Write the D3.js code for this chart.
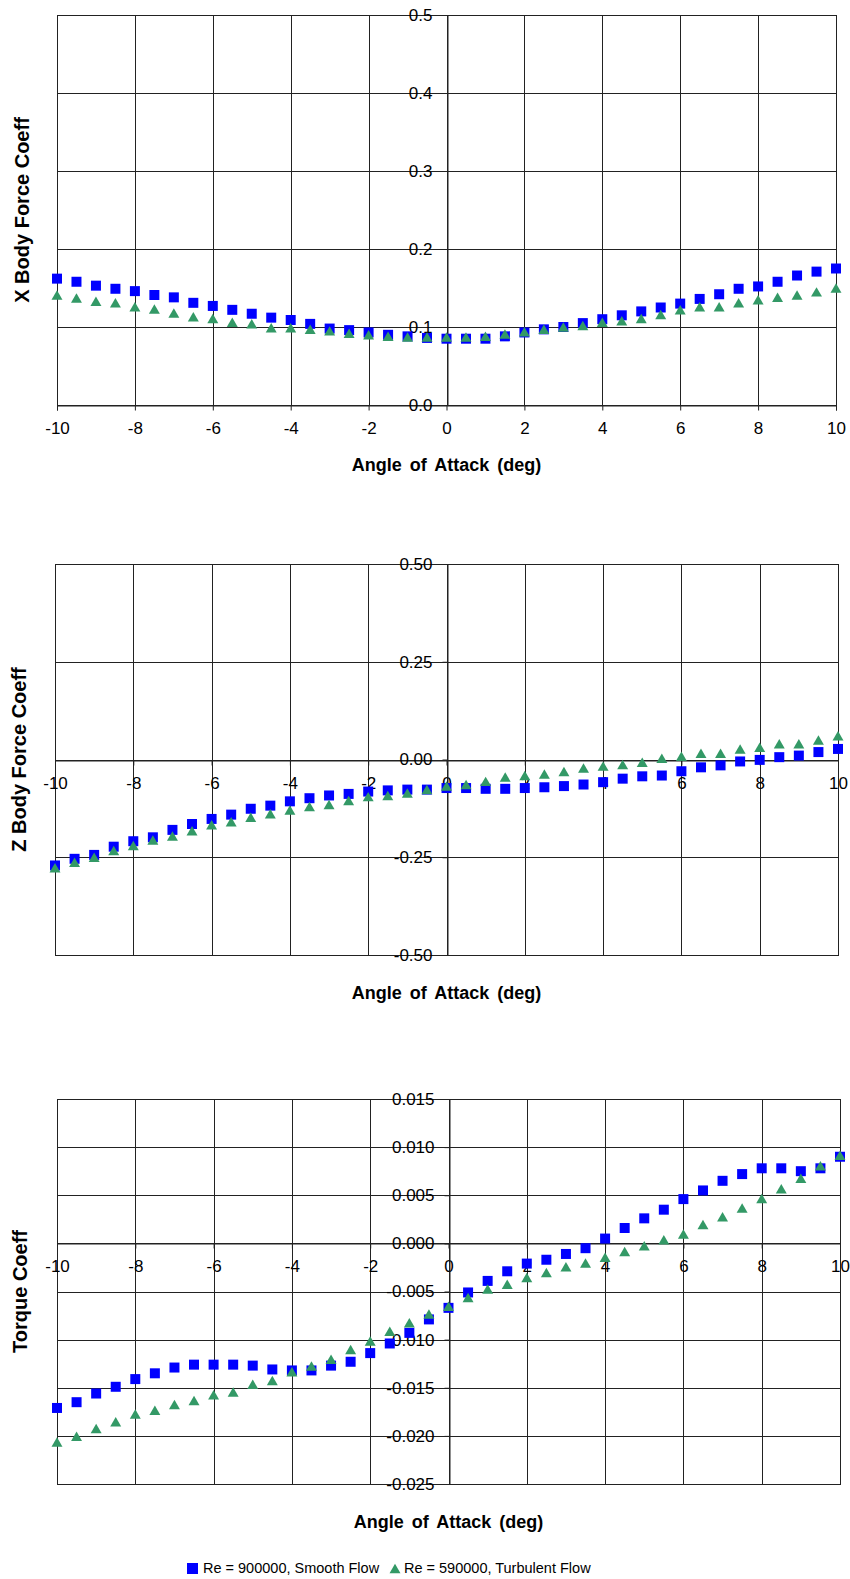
<!DOCTYPE html>
<html>
<head>
<meta charset="utf-8">
<script src="https://cdn.jsdelivr.net/npm/d3@7"></script>
<style>
  body { margin: 0; background: #fff; }
  text { font-family: Arial, 'Liberation Sans', sans-serif; fill: #000; }
</style>
</head>
<body>
<svg id="chart"></svg>
<script>
// angle of attack, deg
const angles = [-10, -9.5, -9, -8.5, -8, -7.5, -7, -6.5, -6, -5.5, -5, -4.5, -4, -3.5, -3, -2.5, -2, -1.5, -1, -0.5,
    0, 0.5, 1, 1.5, 2, 2.5, 3, 3.5, 4, 4.5, 5, 5.5, 6, 6.5, 7, 7.5, 8, 8.5, 9, 9.5, 10]
const xTicks = [-10, -8, -6, -4, -2, 0, 2, 4, 6, 8, 10]
const seriesNames = ['Re = 900000, Smooth Flow', 'Re = 590000, Turbulent Flow']

// X body force coeff
const xForceSmooth = [0.162, 0.158, 0.153, 0.149, 0.146, 0.141, 0.138, 0.131, 0.127, 0.122, 0.117, 0.112, 0.109, 0.104, 0.098, 0.096,
    0.093, 0.090, 0.088, 0.086, 0.085, 0.085, 0.085, 0.088, 0.093, 0.097, 0.100, 0.105, 0.110, 0.115, 0.120, 0.125, 0.130, 0.136,
    0.142, 0.149, 0.152, 0.158, 0.166, 0.171, 0.175]
const xForceTurb = [0.139, 0.135, 0.131, 0.129, 0.124, 0.121, 0.116, 0.111, 0.109, 0.104, 0.102, 0.097, 0.097, 0.095, 0.093, 0.090,
    0.088, 0.086, 0.085, 0.085, 0.085, 0.085, 0.086, 0.089, 0.092, 0.095, 0.098, 0.100, 0.104, 0.106, 0.109, 0.114, 0.120, 0.124,
    0.124, 0.129, 0.133, 0.136, 0.139, 0.143, 0.148]
const xForceTicks = [0, 0.1, 0.2, 0.3, 0.4, 0.5]

// Z body force coeff
const zForceSmooth = [-0.271, -0.254, -0.244, -0.223, -0.209, -0.199, -0.180, -0.165, -0.152, -0.141, -0.126, -0.118, -0.107, -0.099,
    -0.092, -0.088, -0.082, -0.079, -0.077, -0.077, -0.073, -0.073, -0.075, -0.075, -0.073, -0.071, -0.068, -0.064, -0.058, -0.049,
    -0.043, -0.041, -0.030, -0.020, -0.015, -0.005, -0.001, 0.006, 0.010, 0.019, 0.027]
const zForceTurb = [-0.281, -0.267, -0.254, -0.237, -0.224, -0.210, -0.200, -0.186, -0.171, -0.163, -0.152, -0.143, -0.133, -0.124,
    -0.119, -0.109, -0.099, -0.096, -0.090, -0.081, -0.072, -0.068, -0.060, -0.049, -0.045, -0.041, -0.035, -0.026, -0.021, -0.017,
    -0.011, -0.001, 0.004, 0.012, 0.012, 0.023, 0.027, 0.036, 0.036, 0.046, 0.057]
const zForceTicks = [-0.5, -0.25, 0, 0.25, 0.5]

// torque coeff
const torqueSmooth = [-0.0171, -0.0165, -0.0156, -0.0149, -0.0141, -0.0135, -0.0129, -0.0126, -0.0126, -0.0126, -0.0127, -0.0131,
    -0.0132, -0.0132, -0.0127, -0.0123, -0.0114, -0.0104, -0.0093, -0.0079, -0.0067, -0.0051, -0.0039, -0.0029, -0.0021, -0.0017,
    -0.0011, -0.0005, 0.0005, 0.0016, 0.0026, 0.0035, 0.0046, 0.0055, 0.0065, 0.0072, 0.0078, 0.0078, 0.0075, 0.0078, 0.0090]
const torqueTurb = [-0.0208, -0.0202, -0.0194, -0.0187, -0.0179, -0.0175, -0.0169, -0.0165, -0.0159, -0.0156, -0.0148, -0.0144,
    -0.0135, -0.0129, -0.0122, -0.0112, -0.0103, -0.0093, -0.0084, -0.0075, -0.0067, -0.0058, -0.0049, -0.0044, -0.0037, -0.0032,
    -0.0026, -0.0022, -0.0016, -0.0010, -0.0004, 0.0002, 0.0008, 0.0018, 0.0026, 0.0035, 0.0045, 0.0055, 0.0066, 0.0079, 0.0090]
const torqueTicks = [-0.025, -0.02, -0.015, -0.01, -0.005, 0, 0.005, 0.01, 0.015]

const width = 850
const height = 1579
const blue = '#0000ff'
const green = '#339966'

const locale = d3.formatLocale({ decimal: '.', thousands: ',', grouping: [3], currency: ['$', ''], minus: '-' })

const svg = d3.select('#chart')
    .attr('width', width)
    .attr('height', height)

const panels = [
    { yTitle: 'X Body Force Coeff', smooth: xForceSmooth, turb: xForceTurb, ticks: xForceTicks, fmt: '.1f',
      left: 57, right: 836, top: 15, bottom: 405, yTitleX: 22, xTitleY: 465 },
    { yTitle: 'Z Body Force Coeff', smooth: zForceSmooth, turb: zForceTurb, ticks: zForceTicks, fmt: '.2f',
      left: 55, right: 838, top: 564, bottom: 955, yTitleX: 19, xTitleY: 993 },
    { yTitle: 'Torque Coeff', smooth: torqueSmooth, turb: torqueTurb, ticks: torqueTicks, fmt: '.3f',
      left: 57, right: 840, top: 1099, bottom: 1484, yTitleX: 20, xTitleY: 1522 }
]

const square = d3.symbol(d3.symbolSquare, 100)
const triangle = d3.symbol(d3.symbolTriangle, 52)

panels.forEach(p => {
    const x = d3.scaleLinear().domain([-10, 10]).range([p.left, p.right])
    const y = d3.scaleLinear().domain(d3.extent(p.ticks)).range([p.bottom, p.top])
    const g = svg.append('g')

    // grid
    g.append('g').selectAll('line')
        .data(p.ticks)
        .enter().append('line')
        .attr('x1', p.left).attr('x2', p.right)
        .attr('y1', d => Math.round(y(d)) + 0.5).attr('y2', d => Math.round(y(d)) + 0.5)
        .attr('stroke', '#222')
    g.append('g').selectAll('line')
        .data(xTicks)
        .enter().append('line')
        .attr('y1', p.top).attr('y2', p.bottom)
        .attr('x1', d => Math.round(x(d)) + 0.5).attr('x2', d => Math.round(x(d)) + 0.5)
        .attr('stroke', '#222')
    g.append('rect')
        .attr('x', p.left + 0.5).attr('y', p.top + 0.5)
        .attr('width', p.right - p.left).attr('height', p.bottom - p.top)
        .attr('fill', 'none').attr('stroke', '#222')

    // axes through zero
    const xAxis = g.append('g')
        .attr('transform', `translate(0, ${Math.round(y(0)) + 0.5})`)
        .call(d3.axisBottom(x).tickValues(xTicks).tickFormat(locale.format('d')).tickSize(5).tickPadding(11))
    const yAxis = g.append('g')
        .attr('transform', `translate(${Math.round(x(0)) + 0.5}, 0)`)
        .call(d3.axisLeft(y).tickValues(p.ticks).tickFormat(locale.format(p.fmt)).tickSize(5).tickPadding(10))
    ;[xAxis, yAxis].forEach(a => {
        a.select('.domain').attr('stroke', '#222')
        a.selectAll('.tick line').attr('stroke', '#222')
        a.selectAll('text').style('font-size', '17px').style('font-family', 'Arial, Liberation Sans, sans-serif')
    })

    // points
    g.append('g').selectAll('path')
        .data(angles)
        .enter().append('path')
        .attr('d', square)
        .attr('transform', (d, i) => `translate(${x(d)}, ${y(p.smooth[i])})`)
        .attr('fill', blue)
    g.append('g').selectAll('path')
        .data(angles)
        .enter().append('path')
        .attr('d', triangle)
        .attr('transform', (d, i) => `translate(${x(d)}, ${y(p.turb[i])})`)
        .attr('fill', green)

    // titles
    g.append('text')
        .attr('x', (p.left + p.right) / 2)
        .attr('y', p.xTitleY)
        .attr('dy', '0.35em')
        .attr('text-anchor', 'middle')
        .style('font-size', '18px')
        .style('font-weight', 'bold')
        .style('word-spacing', '3px')
        .text('Angle of Attack (deg)')
    g.append('text')
        .attr('transform', `translate(${p.yTitleX}, ${(p.top + p.bottom) / 2}) rotate(-90)`)
        .attr('dy', '0.35em')
        .attr('text-anchor', 'middle')
        .style('font-size', '20px')
        .style('font-weight', 'bold')
        .text(p.yTitle)
})

// legend
const legend = svg.append('g').attr('class', 'legend')
legend.append('rect')
    .attr('x', 187).attr('y', 1563)
    .attr('width', 11).attr('height', 11)
    .attr('fill', blue)
legend.append('text')
    .attr('x', 203).attr('y', 1568)
    .attr('dy', '0.35em')
    .style('font-size', '14.5px')
    .text(seriesNames[0])
legend.append('path')
    .attr('d', triangle)
    .attr('transform', 'translate(395, 1570)')
    .attr('fill', green)
legend.append('text')
    .attr('x', 404).attr('y', 1568)
    .attr('dy', '0.35em')
    .style('font-size', '14.5px')
    .text(seriesNames[1])
</script>
</body>
</html>
